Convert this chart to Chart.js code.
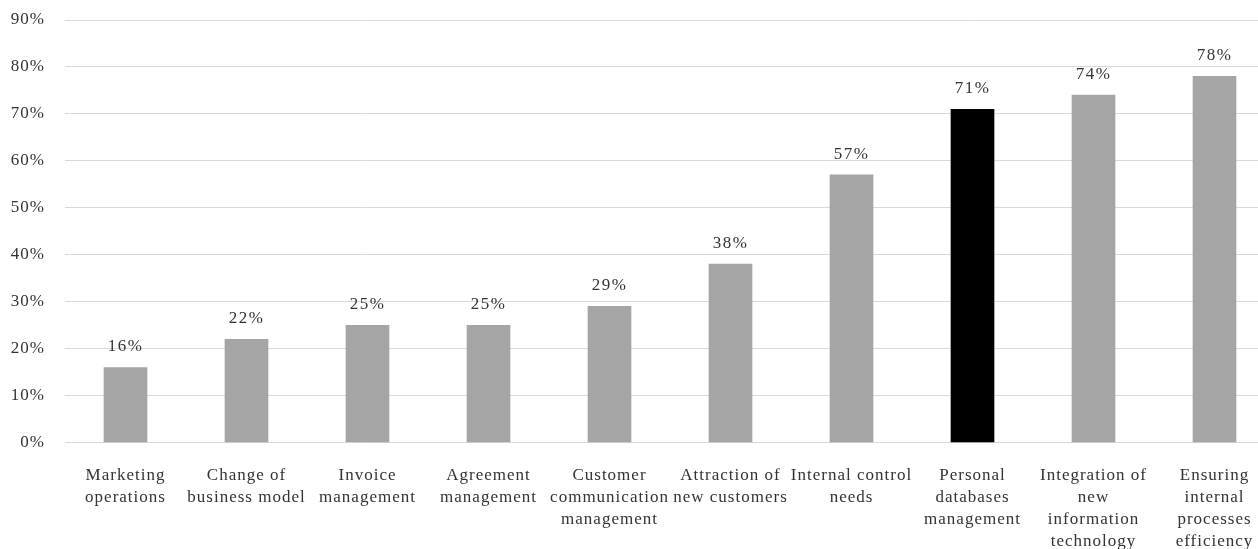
<!DOCTYPE html>
<html>
<head>
<meta charset="utf-8">
<script src="https://cdn.jsdelivr.net/npm/chart.js@4.4.1/dist/chart.umd.min.js"></script>
<style>
  html, body { margin: 0; padding: 0; background: #fff; overflow: hidden; }
  #wrap { position: relative; width: 1275px; height: 549px; }
</style>
</head>
<body>
<div id="wrap"><canvas id="chart"></canvas></div>
<script>
// categories (multi-line labels) and shares
const categories = [
  ['Marketing', 'operations'],
  ['Change of', 'business model'],
  ['Invoice', 'management'],
  ['Agreement', 'management'],
  ['Customer', 'communication', 'management'],
  ['Attraction of', 'new customers'],
  ['Internal control', 'needs'],
  ['Personal', 'databases', 'management'],
  ['Integration of', 'new', 'information', 'technology'],
  ['Ensuring', 'internal', 'processes', 'efficiency']
];
const shares = [16, 22, 25, 25, 29, 38, 57, 71, 74, 78];
const yTicks = [0, 10, 20, 30, 40, 50, 60, 70, 80, 90];

const HIGHLIGHT = 7; // personal databases bar is drawn black
const FONT = "'Liberation Serif', 'Times New Roman', serif";
const TEXT = '#333333';

// wide letter spacing for all chart text
const spacing = {
  id: 'spacing',
  beforeInit(chart) { chart.ctx.letterSpacing = '1px'; },
  beforeUpdate(chart) { chart.ctx.letterSpacing = '1px'; },
  beforeDraw(chart) { chart.ctx.letterSpacing = '1px'; }
};

// value labels above each bar
const valueLabels = {
  id: 'valueLabels',
  afterDatasetsDraw(chart) {
    const ctx = chart.ctx;
    const meta = chart.getDatasetMeta(0);
    ctx.save();
    ctx.font = '17px ' + FONT;
    ctx.letterSpacing = '1.5px';
    ctx.fillStyle = TEXT;
    ctx.textAlign = 'center';
    ctx.textBaseline = 'bottom';
    meta.data.forEach((bar, i) => {
      const { x, y } = bar.getProps(['x', 'y'], true);
      ctx.fillText(shares[i] + '%', x, y - 12);
    });
    ctx.restore();
  }
};

new Chart(document.getElementById('chart'), {
  type: 'bar',
  data: {
    labels: categories,
    datasets: [{
      data: shares,
      backgroundColor: (c) => c.dataIndex === HIGHLIGHT ? '#000000' : '#a5a5a5',
      barThickness: 43
    }]
  },
  options: {
    responsive: true,
    maintainAspectRatio: false,
    animation: false,
    layout: { padding: { top: 0, left: 8, right: 0, bottom: -18 } },
    plugins: {
      legend: { display: false },
      tooltip: { enabled: false }
    },
    scales: {
      x: {
        grid: { display: false },
        border: { display: false },
        ticks: {
          color: TEXT,
          font: { family: FONT, size: 17, lineHeight: 1.3 },
          padding: 14,
          maxRotation: 0,
          autoSkip: false
        }
      },
      y: {
        min: 0,
        max: 90,
        afterBuildTicks: (axis) => { axis.ticks = yTicks.map(v => ({ value: v })); },
        afterFit: (axis) => {
          axis.width = 57;
          axis.paddingTop = 20;
          axis.paddingBottom = 0;
        },
        grid: { color: '#d9d9d9', lineWidth: 1, drawTicks: false },
        border: { display: false },
        ticks: {
          color: TEXT,
          font: { family: FONT, size: 17 },
          padding: 20,
          callback: (v) => v + '%'
        }
      }
    }
  },
  plugins: [spacing, valueLabels]
});
</script>
</body>
</html>
